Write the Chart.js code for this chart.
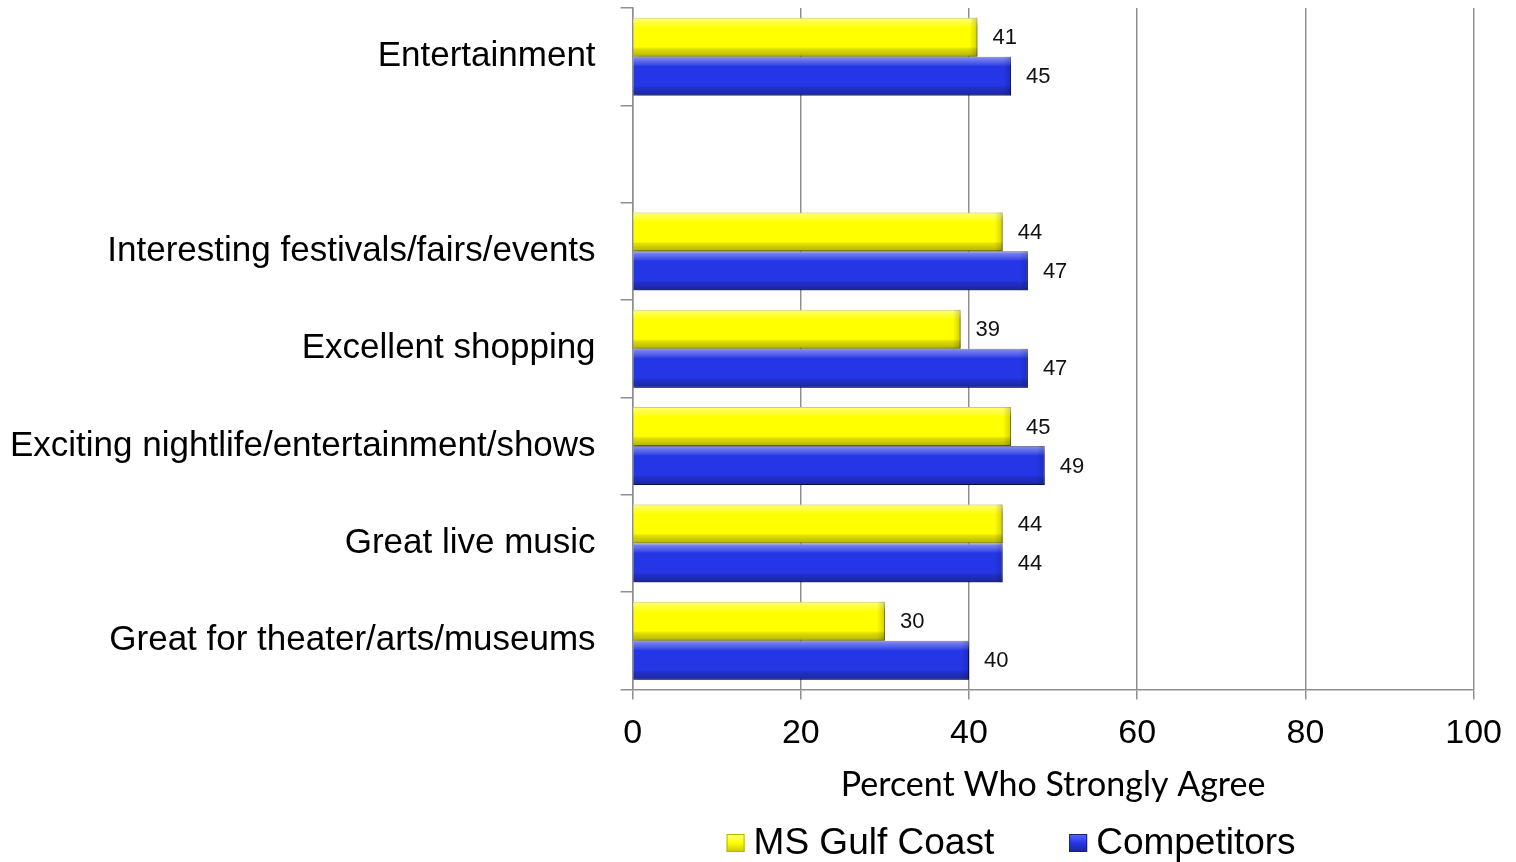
<!DOCTYPE html>
<html>
<head>
<meta charset="utf-8">
<script src="https://cdn.jsdelivr.net/npm/chart.js@4"></script>
<style>
  html, body { margin: 0; padding: 0; background: #fff; }
  #wrap { width: 1516px; height: 862px; }
</style>
</head>
<body>
<div id="wrap"><canvas id="attrChart"></canvas></div>
<script>
/* ---------- data ---------- */
const categories = [
  "Entertainment",
  "",
  "Interesting festivals/fairs/events",
  "Excellent shopping",
  "Exciting nightlife/entertainment/shows",
  "Great live music",
  "Great for theater/arts/museums",
];
const gulfCoast = [41, null, 44, 39, 45, 44, 30];
const competitors = [45, null, 47, 47, 49, 44, 40];
const seriesNames = ["MS Gulf Coast", "Competitors"];
const xTicks = [0, 20, 40, 60, 80, 100];

/* ---------- colours ---------- */
const fills = ["#ffff00", "#2536e6"];
const edges = ["#b5b500", "#17207a"];

/* shadow under the bars */
const barShadow = {
  id: "barShadow",
  beforeDatasetsDraw(chart) {
    const ctx = chart.ctx;
    ctx.save();
    ctx.shadowColor = "rgba(0,0,0,0.35)";
    ctx.shadowBlur = 5;
    ctx.shadowOffsetX = 2;
    ctx.shadowOffsetY = 3;
  },
  afterDatasetsDraw(chart) {
    chart.ctx.restore();
  },
};

/* bevel look + value labels */
const bevelAndValues = {
  id: "bevelAndValues",
  afterDatasetsDraw(chart) {
    const ctx = chart.ctx;
    chart.data.datasets.forEach((ds, di) => {
      chart.getDatasetMeta(di).data.forEach((bar, i) => {
        const v = ds.data[i];
        if (v == null) return;
        const top = bar.y - bar.height / 2;
        const h = bar.height;
        const left = bar.base;
        const w = bar.x - bar.base;
        const g = ctx.createLinearGradient(0, top, 0, top + h);
        g.addColorStop(0, "rgba(255,255,255,0.45)");
        g.addColorStop(0.2, "rgba(255,255,255,0.12)");
        g.addColorStop(0.25, "rgba(255,255,255,0)");
        g.addColorStop(0.75, "rgba(0,0,0,0)");
        g.addColorStop(0.8, "rgba(0,0,0,0.12)");
        g.addColorStop(1, "rgba(0,0,0,0.3)");
        ctx.save();
        ctx.fillStyle = g;
        ctx.fillRect(left, top, w, h);
        // darker end caps
        const s = ctx.createLinearGradient(bar.x - 8, 0, bar.x, 0);
        s.addColorStop(0, "rgba(0,0,0,0)");
        s.addColorStop(1, "rgba(0,0,0,0.18)");
        ctx.fillStyle = s;
        ctx.fillRect(bar.x - 8, top, 8, h);
        ctx.restore();

        ctx.save();
        ctx.fillStyle = "#111";
        ctx.font = "22px 'Liberation Sans', Arial, sans-serif";
        ctx.textAlign = "left";
        ctx.textBaseline = "middle";
        ctx.fillText(String(v), bar.x + 15, bar.y + 1);
        ctx.restore();
      });
    });
  },
};

/* legend under the axis title */
const bottomLegend = {
  id: "bottomLegend",
  afterDraw(chart) {
    const ctx = chart.ctx;
    const area = chart.chartArea;
    const y = chart.height - 19;
    let x = area.left + 94;
    ctx.save();
    ctx.font = "37px 'Liberation Sans', Arial, sans-serif";
    ctx.textBaseline = "middle";
    seriesNames.forEach((name, i) => {
      const g = ctx.createLinearGradient(0, y - 9, 0, y + 9);
      g.addColorStop(0, i ? "#5a6cff" : "#ffff90");
      g.addColorStop(0.5, fills[i]);
      g.addColorStop(1, i ? "#1a2599" : "#c8c800");
      ctx.fillStyle = g;
      ctx.fillRect(x, y - 9, 18, 18);
      ctx.strokeStyle = edges[i];
      ctx.lineWidth = 1;
      ctx.strokeRect(x + 0.5, y - 8.5, 17, 17);
      ctx.fillStyle = "#000";
      ctx.fillText(name, x + 27, y + 1);
      x += 27 + ctx.measureText(name).width + 75;
    });
    ctx.restore();
  },
};

new Chart(document.getElementById("attrChart"), {
  type: "bar",
  plugins: [barShadow, bevelAndValues, bottomLegend],
  data: {
    labels: categories,
    datasets: [
      {
        label: seriesNames[0],
        data: gulfCoast,
        backgroundColor: fills[0],
        borderColor: edges[0],
        borderWidth: 1,
      },
      {
        label: seriesNames[1],
        data: competitors,
        backgroundColor: fills[1],
        borderColor: edges[1],
        borderWidth: 1,
      },
    ],
  },
  options: {
    indexAxis: "y",
    responsive: true,
    maintainAspectRatio: false,
    animation: false,
    layout: { padding: { top: 8, right: 12, left: 10, bottom: 52 } },
    datasets: {
      bar: { categoryPercentage: 0.8, barPercentage: 1.0 },
    },
    plugins: {
      legend: { display: false },
      tooltip: { enabled: false },
    },
    scales: {
      x: {
        min: 0,
        max: 100,
        afterBuildTicks: (axis) => {
          axis.ticks = xTicks.map((v) => ({ value: v }));
        },
        grid: {
          color: "#8f8f8f",
          lineWidth: 1.5,
          tickLength: 10,
        },
        border: { color: "#8f8f8f", width: 1.5 },
        ticks: {
          color: "#000",
          padding: 14,
          font: { family: "'Liberation Sans', Arial, sans-serif", size: 34 },
        },
        title: {
          display: true,
          text: "Percent Who Strongly Agree",
          color: "#000",
          padding: { top: -4, bottom: 5 },
          font: { family: "Lato, 'Open Sans', sans-serif", size: 34 },
        },
      },
      y: {
        offset: true,
        // labels sit inside their bands, no extra room needed above/below
        afterFit: (axis) => {
          axis.paddingTop = 0;
          axis.paddingBottom = 0;
          axis.width -= 25;
        },
        grid: {
          offset: true,
          drawOnChartArea: false,
          color: "#8f8f8f",
          lineWidth: 1.5,
          tickLength: 12,
        },
        border: { color: "#8f8f8f", width: 1.5 },
        ticks: {
          color: "#000",
          padding: 25,
          font: { family: "'Liberation Sans', Arial, sans-serif", size: 35 },
        },
      },
    },
  },
});
</script>
</body>
</html>
